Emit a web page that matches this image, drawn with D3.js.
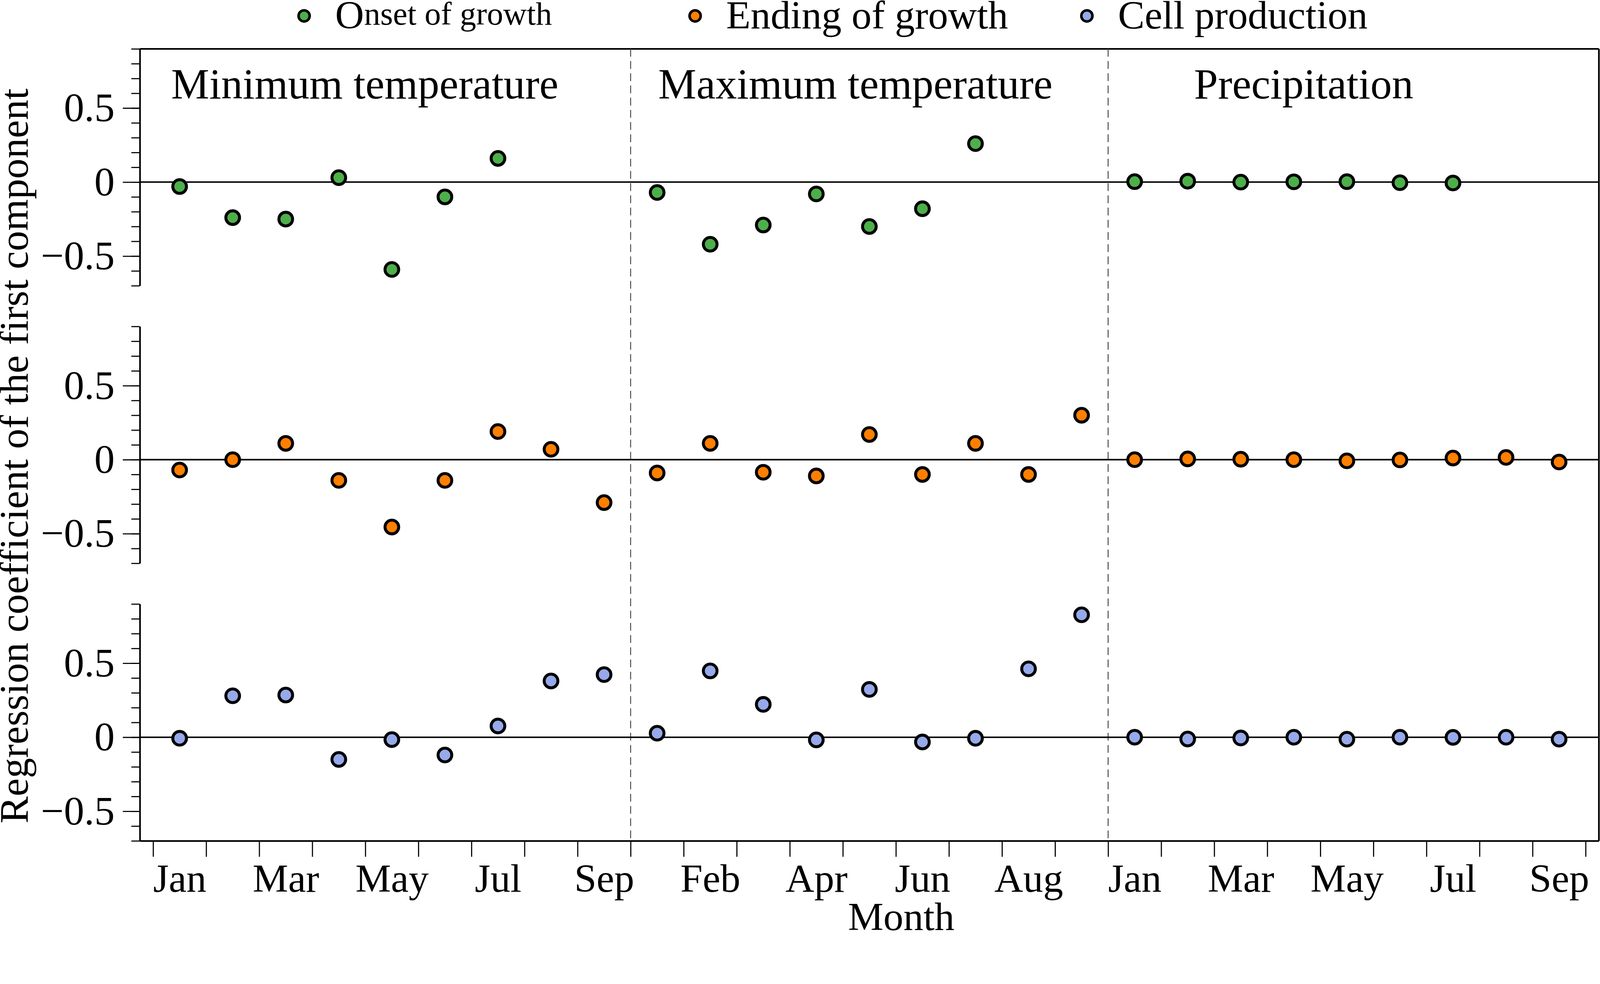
<!DOCTYPE html>
<meta charset="utf-8">
<style>

html, body {
  margin: 0;
  padding: 0;
  overflow: hidden;
  background: #fff;
}

svg {
  display: block;
  width: 100vw;
  height: 100vh;
}

text {
  font-family: "Liberation Serif", "Times New Roman", serif;
  fill: #000;
}

.axis path {
  stroke: #000;
  stroke-width: 4.5;
}

.axis line {
  stroke: #000;
  stroke-width: 3;
}

.frame {
  stroke: #000;
  stroke-width: 4.5;
}

.zero {
  stroke: #000;
  stroke-width: 4;
}

.divider {
  stroke: #444;
  stroke-width: 2.5;
  stroke-dasharray: 21,12;
}

.dot {
  stroke: #000;
  stroke-width: 8;
}

</style>
<svg viewBox="0 0 4325 2518" preserveAspectRatio="xMidYMin meet"></svg>
<script src="https://d3js.org/d3.v7.min.js"></script>
<script>

// months shown in each of the three climate blocks
var months = ["Jan", "Feb", "Mar", "Apr", "May", "Jun", "Jul", "Aug", "Sep"];
var variables = ["Minimum temperature", "Maximum temperature", "Precipitation"];
var seriesNames = ["Onset of growth", "Ending of growth", "Cell production"];
var seriesColors = ["#4daf4a", "#ff7f00", "#96a9ea"];
var yTicks = [-0.5, 0, 0.5];

// onset of growth (no values for Aug, Sep)
var onsetMin  = [-0.03, -0.24, -0.25, 0.03, -0.59, -0.10, 0.16, null, null];
var onsetMax  = [-0.07, -0.42, -0.29, -0.08, -0.30, -0.18, 0.26, null, null];
var onsetPrec = [0.003, 0.006, 0.0, 0.002, 0.003, -0.004, -0.006, null, null];

// ending of growth
var endingMin  = [-0.07, 0.0, 0.11, -0.14, -0.455, -0.14, 0.19, 0.07, -0.29];
var endingMax  = [-0.09, 0.11, -0.085, -0.11, 0.17, -0.10, 0.11, -0.10, 0.30];
var endingPrec = [0.0, 0.005, 0.003, 0.0, -0.008, -0.002, 0.011, 0.015, -0.016];

// cell production
var cellMin  = [-0.007, 0.28, 0.285, -0.15, -0.016, -0.12, 0.076, 0.38, 0.423];
var cellMax  = [0.027, 0.448, 0.222, -0.018, 0.323, -0.032, -0.007, 0.462, 0.827];
var cellPrec = [0.0, -0.012, -0.005, 0.0, -0.013, 0.0, -0.001, 0.0, -0.013];

var panels = [
  [onsetMin, onsetMax, onsetPrec],
  [endingMin, endingMax, endingPrec],
  [cellMin, cellMax, cellPrec]
];

var svg = d3.select("svg"),
    plotLeft = 378, plotRight = 4322,
    plotTop = 132, panelH = 640, panelGap = 110,
    plotBottom = plotTop + 3 * panelH + 2 * panelGap,
    nMonths = months.length,
    nSlots = variables.length * nMonths;

svg.append("rect")
    .attr("width", 4325).attr("height", 2518)
    .attr("fill", "#fff");

var x = d3.scaleLinear()
    .domain([-0.75, nSlots - 0.25])
    .range([plotLeft, plotRight]);

// frame: top and right border
svg.append("line").attr("class", "frame")
    .attr("x1", plotLeft).attr("x2", plotRight).attr("y1", plotTop).attr("y2", plotTop);
svg.append("line").attr("class", "frame")
    .attr("x1", plotRight).attr("x2", plotRight).attr("y1", plotTop).attr("y2", plotBottom);

// dashed separators between the variable blocks
svg.selectAll(".divider")
  .data(d3.range(1, variables.length))
  .enter().append("line")
    .attr("class", "divider")
    .attr("x1", function(d) { return x(d * nMonths - 0.5); })
    .attr("x2", function(d) { return x(d * nMonths - 0.5); })
    .attr("y1", plotTop)
    .attr("y2", plotBottom);

panels.forEach(function(series, p) {
  var y0 = plotTop + p * (panelH + panelGap);
  var y = d3.scaleLinear().domain([-0.7, 0.9]).range([y0 + panelH, y0]);

  // minor ticks
  svg.append("g")
      .attr("class", "axis")
      .attr("transform", "translate(" + plotLeft + ",0)")
      .call(d3.axisLeft(y)
        .tickValues(d3.range(-7, 10).map(function(d) { return d / 10; }))
        .tickSize(23).tickSizeOuter(0).tickFormat(""));

  // major ticks with labels
  svg.append("g")
      .attr("class", "axis")
      .attr("transform", "translate(" + plotLeft + ",0)")
      .call(d3.axisLeft(y).tickValues(yTicks)
        .tickSize(46).tickSizeOuter(0).tickPadding(22)
        .tickFormat(function(d) { return d === 0 ? "0" : d3.format(".1f")(d); }))
      .attr("font-size", 110)
      .attr("font-family", null)
      .call(function(g) { g.select(".domain").remove(); });

  svg.append("line")
      .attr("class", "zero")
      .attr("x1", plotLeft).attr("x2", plotRight)
      .attr("y1", y(0)).attr("y2", y(0));

  var pts = [];
  series.forEach(function(vals, v) {
    vals.forEach(function(val, m) {
      if (val !== null) pts.push({slot: v * nMonths + m, value: val});
    });
  });

  svg.selectAll(".dot-" + p)
    .data(pts)
    .enter().append("circle")
      .attr("class", "dot dot-" + p)
      .attr("cx", function(d) { return x(d.slot); })
      .attr("cy", function(d) { return y(d.value); })
      .attr("r", 18.5)
      .attr("fill", seriesColors[p]);

  // variable titles only in the top panel
  if (p === 0) {
    var titleSlot = [-0.16, 9.02, 19.12];
    svg.selectAll(".title")
      .data(variables)
      .enter().append("text")
        .attr("class", "title")
        .attr("x", function(d, i) { return x(titleSlot[i]); })
        .attr("y", y(0.565))
        .attr("font-size", 116)
        .text(function(d) { return d; });
  }
});

// bottom month axis
svg.append("g")
    .attr("class", "axis")
    .attr("transform", "translate(0," + plotBottom + ")")
    .call(d3.axisBottom(x)
      .tickValues(d3.range(nSlots + 1).map(function(k) { return k - 0.5; }))
      .tickSize(43).tickSizeOuter(0).tickFormat(""));

svg.append("g")
    .attr("transform", "translate(0," + plotBottom + ")")
    .call(d3.axisBottom(x)
      .tickValues(d3.range(0, nSlots, 2))
      .tickSize(0).tickPadding(61)
      .tickFormat(function(d) { return months[d % nMonths]; }))
    .attr("font-size", 108)
    .attr("font-family", null)
    .call(function(g) { g.select(".domain").remove(); });

svg.append("text")
    .attr("x", x(13.6))
    .attr("y", 2513)
    .attr("text-anchor", "middle")
    .attr("font-size", 108)
    .text("Month");

svg.append("text")
    .attr("transform", "translate(75," + 1232 + ") rotate(-90)")
    .attr("text-anchor", "middle")
    .attr("font-size", 110)
    .text("Regression coefficient of the first component");

// legend
var legendX = [822, 1879, 2938];
var legend = svg.selectAll(".legend")
  .data(seriesNames)
  .enter().append("g")
    .attr("class", "legend")
    .attr("transform", function(d, i) { return "translate(" + legendX[i] + ",43)"; });

legend.append("circle")
    .attr("r", 15)
    .attr("fill", function(d, i) { return seriesColors[i]; })
    .attr("stroke", "#000")
    .attr("stroke-width", 7);

legend.append("text")
    .attr("x", 84)
    .attr("y", 34)
    .attr("font-size", 108)
    .each(function(d, i) {
      var t = d3.select(this);
      if (i === 0) {
        t.append("tspan").text(d.charAt(0));
        t.append("tspan").attr("font-size", 88).attr("dy", -10).text(d.slice(1));
      } else {
        t.text(d);
      }
    });

</script>
